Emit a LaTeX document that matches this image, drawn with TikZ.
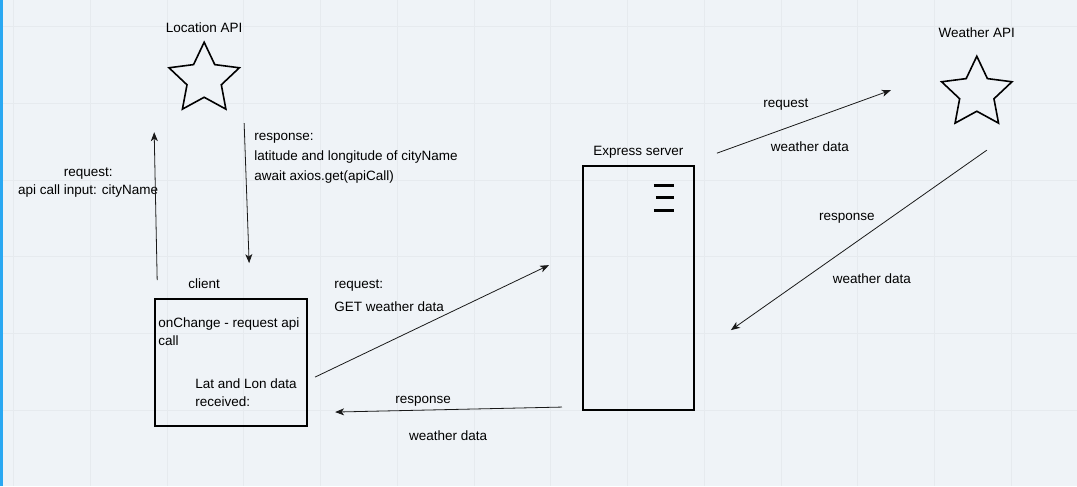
\documentclass[tikz,border=0pt]{standalone}
\usepackage{fontspec}
\setmainfont{Liberation Sans}
\usetikzlibrary{arrows.meta,positioning,shapes.geometric}
\definecolor{canvasbg}{HTML}{EFF3F7}
\definecolor{canvasgrid}{HTML}{E6EAEE}
\definecolor{canvasedge}{HTML}{2AA8F2}
\tikzset{
    flowstar/.style={draw, line width=1.6pt, star, star points=5, star point ratio=2.05, minimum size=74pt, inner sep=0pt},
    flowbox/.style={draw, line width=1.8pt, inner sep=0pt},
    flowtext/.style={align=center, inner sep=0pt, font=\fontsize{13.5}{18}\selectfont},
    flownote/.style={align=left, inner sep=0pt, anchor=north west, font=\fontsize{13.5}{18}\selectfont},
    flowarrow/.style={-{Stealth[length=9pt, width=7pt, inset=2.5pt]}, line width=0.8pt, draw=black!90}
}

\begin{document}
\begin{tikzpicture}[x=1pt, y=-1pt]
    \fill[canvasbg] (0,0) rectangle (1077,486);
    \foreach \k in {0,...,13}
        \draw[canvasgrid, line width=0.5pt] ({13+76.8*\k},0) -- ({13+76.8*\k},486);
    \foreach \k in {0,...,5}
        \draw[canvasgrid, line width=0.5pt] (0,{26+76.8*\k}) -- (1077,{26+76.8*\k});
    \fill[canvasedge] (0,0) rectangle (2.5,486);

    \node[flowstar] (locapi) at (204,79) {};
    \node[flowstar] (weatherapi) at (977,93) {};
    \node[flowbox, minimum width=152pt, minimum height=127pt] (client) at (231,362.5) {};
    \node[flowbox, minimum width=111pt, minimum height=244pt] (server) at (638.5,288) {};
    \foreach \dy/\dx in {20/0,32/2,45/0}
        \draw[line width=2.6pt] ([shift={(-41+\dx,\dy)}]server.north east) -- ([shift={(-21,\dy)}]server.north east);

    \node[flowtext] (loclabel) at (204,27) {Location API};
    \node[flowtext] (weatherlabel) at (977,32) {Weather API};
    \node[flowtext] (clientlabel) at (204,284) {client};
    \node[flowtext, above=7pt of server] (serverlabel) {Express server};
    \node[flownote] (clienttop) at (158,317) {onChange - request api\\call};
    \node[flownote] (clientbottom) at (195,378) {Lat and Lon data\\received:};

    \coordinate (locreqS) at (157,280);
    \coordinate (locreqE) at (154,132);
    \coordinate (locresS) at (244,123);
    \coordinate (locresE) at (249,263);
    \coordinate (srvreqS) at (315,377);
    \coordinate (srvreqE) at (549,265);
    \coordinate (srvresS) at (562,407);
    \coordinate (srvresE) at (335,412);
    \coordinate (wxreqS) at (717,153);
    \coordinate (wxreqE) at (891,90);
    \coordinate (wxresS) at (987,150);
    \coordinate (wxresE) at (731,330);

    \node[flowtext] (locreqnote) at (88,182) {request:\\api call input: cityName};
    \node[flownote, font=\fontsize{13.5}{20}\selectfont] (locresnote) at (254,133) {response:\\latitude and longitude of cityName\\await axios.get(apiCall)};
    \node[flownote] (srvreqnote) at (334,279) {request:\\[5pt]GET weather data};
    \node[flowtext] (srvresnote) at (423,401) {response};
    \node[flowtext] (srvresdata) at (448,436) {weather data};
    \node[flowtext] (wxreqnote) at (786,104) {request};
    \node[flowtext] (wxreqdata) at (810,146) {weather data};
    \node[flowtext] (wxresnote) at (847,218) {response};
    \node[flowtext] (wxresdata) at (872,279) {weather data};

    \draw[flowarrow] (locreqS) -- (locreqE);
    \draw[flowarrow] (locresS) -- (locresE);
    \draw[flowarrow] (srvreqS) -- (srvreqE);
    \draw[flowarrow] (srvresS) -- (srvresE);
    \draw[flowarrow] (wxreqS) -- (wxreqE);
    \draw[flowarrow] (wxresS) -- (wxresE);
\end{tikzpicture}
\end{document}
